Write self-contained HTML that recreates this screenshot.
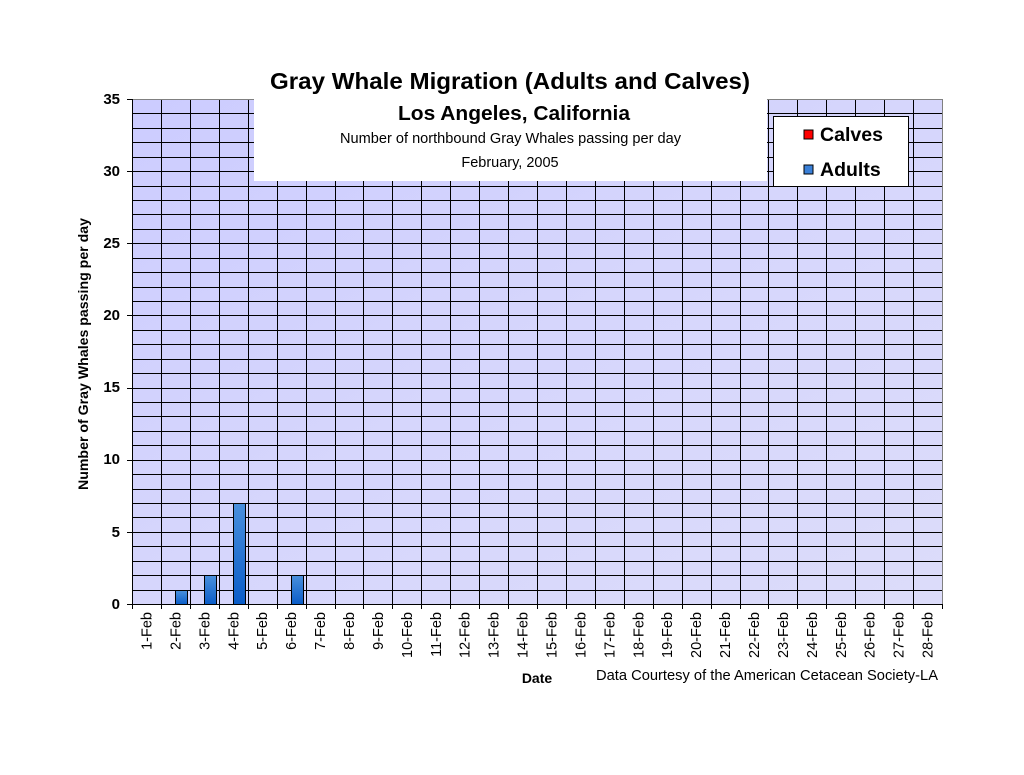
<!DOCTYPE html><html><head><style>body{margin:0;background:#fff}svg{display:block}text{font-family:"Liberation Sans",Arial,sans-serif}</style></head><body>
<svg width="1024" height="775" xmlns="http://www.w3.org/2000/svg">
<defs><linearGradient id="bg" x1="0" y1="0" x2="1" y2="1"><stop offset="0" stop-color="#ccccff"/><stop offset="0.5" stop-color="#d6d6fc"/><stop offset="1" stop-color="#dcdcfa"/></linearGradient>
<linearGradient id="bar" x1="0" y1="0" x2="0" y2="1"><stop offset="0" stop-color="#4a90dc"/><stop offset="1" stop-color="#0a5cc8"/></linearGradient></defs>
<rect x="132" y="99" width="810" height="505" fill="url(#bg)"/>
<g stroke="#000" stroke-width="1" id="grid"></g>
<line x1="942.5" y1="99" x2="942.5" y2="604" stroke="#808080"/>
<line x1="132" y1="99.5" x2="942" y2="99.5" stroke="#808080"/>
<g id="bars"></g>
<line x1="132.5" y1="99" x2="132.5" y2="609" stroke="#000"/>
<line x1="127" y1="604.5" x2="942" y2="604.5" stroke="#000"/>
<g id="ticks" stroke="#000"></g>
<g id="labels" font-size="14.5" fill="#000"></g>
<g font-size="15" font-weight="bold" text-anchor="end">
<text x="120" y="104">35</text><text x="120" y="176">30</text><text x="120" y="248">25</text><text x="120" y="320">20</text><text x="120" y="392">15</text><text x="120" y="464">10</text><text x="120" y="537">5</text><text x="120" y="609">0</text></g>
<rect x="254" y="60" width="513" height="121" fill="#fff"/>
<text x="270" y="89" font-size="23" font-weight="bold" textLength="480" lengthAdjust="spacingAndGlyphs">Gray Whale Migration (Adults and Calves)</text>
<text x="398" y="120" font-size="20.5" font-weight="bold" textLength="232" lengthAdjust="spacingAndGlyphs">Los Angeles, California</text>
<text x="340" y="143" font-size="14.5" textLength="341" lengthAdjust="spacingAndGlyphs">Number of northbound Gray Whales passing per day</text>
<text x="510" y="167" font-size="14.5" text-anchor="middle">February, 2005</text>
<rect x="773.5" y="116.5" width="135" height="70" fill="#fff" stroke="#000"/>
<rect x="804" y="130" width="9" height="9" fill="#f00" stroke="#000"/>
<text x="820" y="141" font-size="19.5" font-weight="bold" textLength="63" lengthAdjust="spacingAndGlyphs">Calves</text>
<rect x="804" y="165" width="9" height="9" fill="#3a80d8" stroke="#000"/>
<text x="820" y="176" font-size="19.5" font-weight="bold">Adults</text>
<text transform="translate(88,354) rotate(-90)" font-size="14" font-weight="bold" text-anchor="middle" textLength="272" lengthAdjust="spacingAndGlyphs">Number of Gray Whales passing per day</text>
<text x="537" y="683" font-size="14" font-weight="bold" text-anchor="middle">Date</text>
<text x="596" y="680" font-size="14.5" textLength="342" lengthAdjust="spacingAndGlyphs">Data Courtesy of the American Cetacean Society-LA</text>
<script>
var ns="http://www.w3.org/2000/svg",g=document.getElementById('grid'),w=810/28,s=505/35;
function el(p,t,a){var e=document.createElementNS(ns,t);for(var k in a)e.setAttribute(k,a[k]);p.appendChild(e);return e}
for(var i=1;i<35;i++){var y=Math.round(99+i*s)+.5;el(g,'line',{x1:132,x2:942,y1:y,y2:y})}
for(var i=1;i<28;i++){var x=Math.round(132+i*w)+.5;el(g,'line',{x1:x,x2:x,y1:99,y2:604})}
var tk=document.getElementById('ticks');
for(var i=0;i<=28;i++){var x=Math.round(132+i*w)+.5;el(tk,'line',{x1:x,x2:x,y1:604,y2:609})}
for(var i=0;i<=35;i+=5){var y=Math.round(99+i*s)+.5;el(tk,'line',{x1:127,x2:132,y1:y,y2:y})}
var b=document.getElementById('bars'),d={1:1,2:2,3:7,5:2};
for(var k in d){var x0=Math.round(132+k*w)+14,h=Math.round(d[k]*s);el(b,'rect',{x:x0+.5,y:604-h+.5,width:12,height:h,fill:'url(#bar)',stroke:'#000'})}
var L=document.getElementById('labels');
for(var i=0;i<28;i++){var x=132+(i+.5)*w+5;var t=el(L,'text',{transform:'translate('+x+',612) rotate(-90)','text-anchor':'end'});t.textContent=(i+1)+'-Feb'}
</script>
</svg></body></html>
